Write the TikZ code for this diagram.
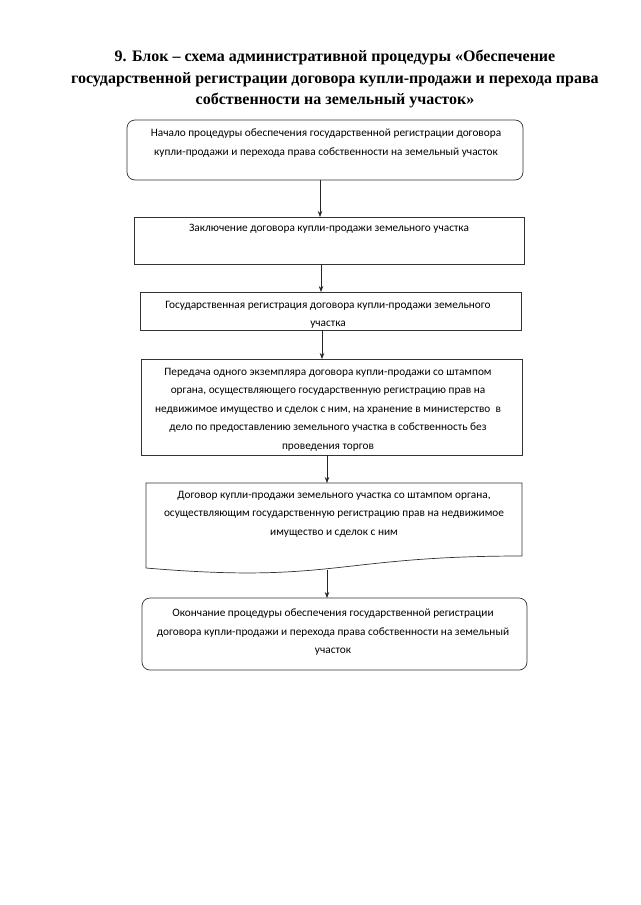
\documentclass[tikz,border=0pt]{standalone}
\usepackage{fontspec}
\setmainfont{Carlito}
\newfontfamily\titlefont{Liberation Serif}
\usetikzlibrary{arrows.meta}
\begin{document}
\begin{tikzpicture}[x=1pt,y=-1pt,
  boxline/.style={draw=black!80,line width=0.7pt},
  stepbox/.style={boxline,anchor=north west,inner sep=0pt,outer sep=0pt},
  roundbox/.style={stepbox,rounded corners=8pt},
  txt/.style={anchor=north,inner sep=0pt,align=center,font=\fontsize{11.3}{18.5}\selectfont},
  arr/.style={draw=black!85,line width=0.7pt,-{Stealth[length=6pt,width=4.5pt]}}]
\useasboundingbox (0,0) rectangle (640,905);
\fill[white] (0,0) rectangle (640,905);
% title
\node[anchor=north,inner sep=0pt,align=center,font=\titlefont\bfseries\fontsize{16}{21.5}\selectfont] (title) at (335,50)
 {9. Блок – схема административной процедуры «Обеспечение\\государственной регистрации договора купли-продажи и перехода права\\собственности на земельный участок»};
% boxes
\node[roundbox,minimum width=396pt,minimum height=60pt] (b1) at (127,120) {};
\node[txt] (t1) at (326,129) {Начало процедуры обеспечения государственной регистрации договора\\купли-продажи и перехода права собственности на земельный участок};
\node[stepbox,minimum width=390pt,minimum height=47pt] (b2) at (134,217) {};
\node[txt] (t2) at (329,224) {Заключение договора купли-продажи земельного участка};
\node[stepbox,minimum width=381pt,minimum height=38pt] (b3) at (140,292) {};
\node[txt] (t3) at (328,301) {Государственная регистрация договора купли-продажи земельного\\участка};
\node[stepbox,minimum width=381pt,minimum height=96pt] (b4) at (141,359) {};
\node[txt] (t4) at (328,368) {Передача одного экземпляра договора купли-продажи со штампом\\органа, осуществляющего государственную регистрацию прав на\\недвижимое имущество и сделок с ним, на хранение в министерство~ в\\дело по предоставлению земельного участка в собственность без\\проведения торгов};
\node[anchor=north west,inner sep=0pt,outer sep=0pt,minimum width=376pt,minimum height=73pt] (b5) at (146,483) {};
\draw[boxline] (b5.south east) -- (b5.north east) -- (b5.north west) -- (146,568)
  .. controls (334,584) and (334,556) .. (b5.south east);
\node[txt] (t5) at (334,491) {Договор купли-продажи земельного участка со штампом органа,\\осуществляющим государственную регистрацию прав на недвижимое\\имущество и сделок с ним};
\node[roundbox,minimum width=385pt,minimum height=72pt] (b6) at (142,598) {};
\node[txt] (t6) at (333,609) {Окончание процедуры обеспечения государственной регистрации\\договора купли-продажи и перехода права собственности на земельный\\участок};
% arrows
\coordinate (a1) at (320,180);
\coordinate (a2) at (321,264);
\coordinate (a3) at (322,330);
\coordinate (a4) at (327,455);
\coordinate (a5) at (327,569.6);
\draw[arr] (a1) -- (a1 |- b2.north);
\draw[arr] (a2) -- (a2 |- b3.north);
\draw[arr] (a3) -- (a3 |- b4.north);
\draw[arr] (a4) -- (a4 |- b5.north);
\draw[arr] (a5) -- (a5 |- b6.north);
\end{tikzpicture}
\end{document}
